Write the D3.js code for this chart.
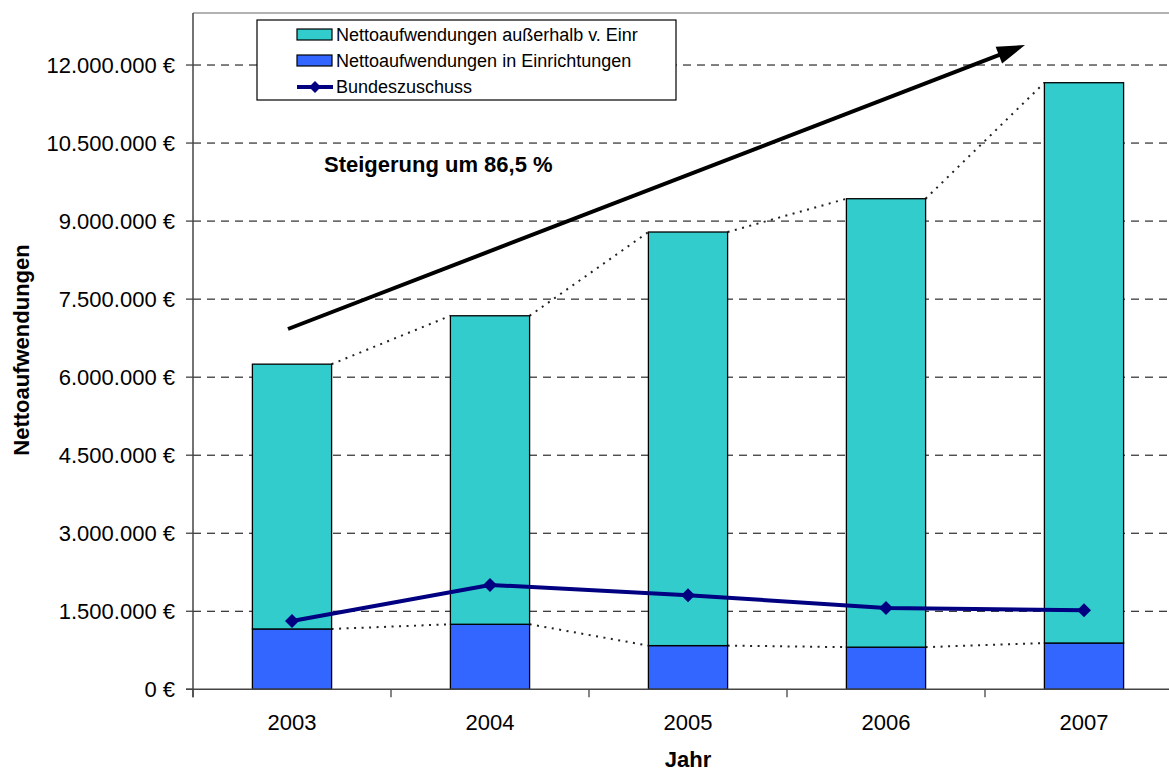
<!DOCTYPE html>
<html>
<head>
<meta charset="utf-8">
<script src="https://cdn.jsdelivr.net/npm/d3@7"></script>
<style>
  body { margin: 0; background: #fff; }
  svg { display: block; font-family: "Liberation Sans", Arial, sans-serif; }
</style>
</head>
<body>
<div id="chart"></div>
<script>
// data
var years = ["2003", "2004", "2005", "2006", "2007"];
var inEinrichtungen = [1160000, 1250000, 840000, 810000, 890000];
var ausserhalb = [5090000, 5930000, 7950000, 8620000, 10770000];
var bundeszuschuss = [1313000, 2006000, 1810000, 1565000, 1520000];
var yTicks = [0, 1500000, 3000000, 4500000, 6000000, 7500000, 9000000, 10500000, 12000000];

var width = 1169, height = 771;
var plotLeft = 193, plotRight = 1183, plotTop = 13, plotBottom = 689.3;

var svg = d3.select("#chart").append("svg")
    .attr("width", width)
    .attr("height", height);

var x = d3.scaleBand()
    .domain(years)
    .range([plotLeft, plotRight])
    .paddingInner(0.6)
    .paddingOuter(0.3);

var y = d3.scaleLinear()
    .domain([0, 13000000])
    .range([plotBottom, plotTop]);

var de = d3.formatLocale({decimal: ",", thousands: ".", grouping: [3], currency: ["", " €"]});
var fmt = de.format(",.0f");

// grid lines
svg.append("g")
  .selectAll("line")
  .data(yTicks.filter(function(d) { return d > 0; }))
  .enter().append("line")
    .attr("x1", plotLeft)
    .attr("x2", plotRight)
    .attr("y1", function(d) { return y(d); })
    .attr("y2", function(d) { return y(d); })
    .attr("stroke", "#000")
    .attr("stroke-width", 1)
    .attr("stroke-dasharray", "8,6");

// top border
svg.append("line")
    .attr("x1", plotLeft).attr("x2", width)
    .attr("y1", plotTop).attr("y2", plotTop)
    .attr("stroke", "#999").attr("stroke-width", 1.5);

// stacked bars
var stacked = years.map(function(yr, i) {
  return {year: yr, lower: inEinrichtungen[i], upper: ausserhalb[i]};
});

// dotted series lines between the bars
var serLines = [];
for (var i = 0; i < stacked.length - 1; i++) {
  var a = stacked[i], b = stacked[i + 1];
  serLines.push({x1: x(a.year) + x.bandwidth(), x2: x(b.year), v1: a.lower, v2: b.lower});
  serLines.push({x1: x(a.year) + x.bandwidth(), x2: x(b.year), v1: a.lower + a.upper, v2: b.lower + b.upper});
}
svg.append("g")
  .selectAll("line")
  .data(serLines)
  .enter().append("line")
    .attr("x1", function(d) { return d.x1; })
    .attr("x2", function(d) { return d.x2; })
    .attr("y1", function(d) { return y(d.v1); })
    .attr("y2", function(d) { return y(d.v2); })
    .attr("stroke", "#222")
    .attr("stroke-width", 2)
    .attr("stroke-dasharray", "2,5.5");

var bars = svg.append("g");
bars.selectAll(".lower")
    .data(stacked)
  .enter().append("rect")
    .attr("class", "lower")
    .attr("x", function(d) { return x(d.year); })
    .attr("width", x.bandwidth())
    .attr("y", function(d) { return y(d.lower); })
    .attr("height", function(d) { return y(0) - y(d.lower); })
    .attr("fill", "#3366FF")
    .attr("stroke", "#000")
    .attr("stroke-width", 1.3);

bars.selectAll(".upper")
    .data(stacked)
  .enter().append("rect")
    .attr("class", "upper")
    .attr("x", function(d) { return x(d.year); })
    .attr("width", x.bandwidth())
    .attr("y", function(d) { return y(d.lower + d.upper); })
    .attr("height", function(d) { return y(d.lower) - y(d.lower + d.upper); })
    .attr("fill", "#33CCCC")
    .attr("stroke", "#000")
    .attr("stroke-width", 1.3);

// axes
svg.append("line")
    .attr("x1", plotLeft).attr("x2", plotLeft)
    .attr("y1", plotTop).attr("y2", plotBottom + 8)
    .attr("stroke", "#444").attr("stroke-width", 1.5);
svg.append("line")
    .attr("x1", plotLeft - 7).attr("x2", plotRight)
    .attr("y1", plotBottom).attr("y2", plotBottom)
    .attr("stroke", "#444").attr("stroke-width", 1.5);

svg.append("g")
  .selectAll("line")
  .data(yTicks)
  .enter().append("line")
    .attr("x1", plotLeft - 7).attr("x2", plotLeft)
    .attr("y1", function(d) { return y(d); })
    .attr("y2", function(d) { return y(d); })
    .attr("stroke", "#444").attr("stroke-width", 1.3);

svg.append("g")
  .selectAll("text")
  .data(yTicks)
  .enter().append("text")
    .attr("x", plotLeft - 18)
    .attr("y", function(d) { return y(d); })
    .attr("dy", "0.36em")
    .attr("text-anchor", "end")
    .attr("font-size", 22)
    .attr("fill", "#000")
    .text(function(d) { return fmt(d) + " €"; });

var step = x.step();
svg.append("g")
  .selectAll("line")
  .data(d3.range(years.length + 1))
  .enter().append("line")
    .attr("x1", function(d) { return plotLeft + d * step; })
    .attr("x2", function(d) { return plotLeft + d * step; })
    .attr("y1", plotBottom).attr("y2", plotBottom + 8)
    .attr("stroke", "#444").attr("stroke-width", 1.3);

svg.append("g")
  .selectAll("text")
  .data(years)
  .enter().append("text")
    .attr("x", function(d) { return x(d) + x.bandwidth() / 2; })
    .attr("y", 730)
    .attr("text-anchor", "middle")
    .attr("font-size", 22)
    .text(function(d) { return d; });

// Bundeszuschuss line
var pts = years.map(function(yr, i) { return {year: yr, v: bundeszuschuss[i]}; });
var diamond = function(s) { return "M0," + (-s) + "L" + s + ",0L0," + s + "L" + (-s) + ",0Z"; };

svg.append("path")
    .datum(pts)
    .attr("fill", "none")
    .attr("stroke", "#000080")
    .attr("stroke-width", 4)
    .attr("d", d3.line()
      .x(function(d) { return x(d.year) + x.bandwidth() / 2; })
      .y(function(d) { return y(d.v); }));

svg.append("g")
  .selectAll("path")
  .data(pts)
  .enter().append("path")
    .attr("transform", function(d) { return "translate(" + (x(d.year) + x.bandwidth() / 2) + "," + y(d.v) + ")"; })
    .attr("d", diamond(7))
    .attr("fill", "#000080");

// trend arrow + annotation
var arrow = {x1: 288, y1: 329, x2: 1025, y2: 45};
var ang = Math.atan2(arrow.y2 - arrow.y1, arrow.x2 - arrow.x1);
var headLen = 28, headW = 9;
var bx = arrow.x2 - headLen * Math.cos(ang), by = arrow.y2 - headLen * Math.sin(ang);
svg.append("line")
    .attr("x1", arrow.x1).attr("y1", arrow.y1)
    .attr("x2", bx + 4 * Math.cos(ang)).attr("y2", by + 4 * Math.sin(ang))
    .attr("stroke", "#000").attr("stroke-width", 4);
svg.append("path")
    .attr("d", "M" + arrow.x2 + "," + arrow.y2 +
      "L" + (bx - headW * Math.sin(ang)) + "," + (by + headW * Math.cos(ang)) +
      "L" + (bx + headW * Math.sin(ang)) + "," + (by - headW * Math.cos(ang)) + "Z")
    .attr("fill", "#000");

svg.append("text")
    .attr("x", 324).attr("y", 172)
    .attr("font-size", 22)
    .attr("font-weight", "bold")
    .text("Steigerung um 86,5 %");

// axis titles
svg.append("text")
    .attr("transform", "translate(29,350) rotate(-90)")
    .attr("text-anchor", "middle")
    .attr("font-size", 22)
    .attr("font-weight", "bold")
    .text("Nettoaufwendungen");

svg.append("text")
    .attr("x", x("2005") + x.bandwidth() / 2)
    .attr("y", 767)
    .attr("text-anchor", "middle")
    .attr("font-size", 22)
    .attr("font-weight", "bold")
    .text("Jahr");

// legend
var legend = svg.append("g").attr("transform", "translate(257,20)");
legend.append("rect")
    .attr("width", 419).attr("height", 80)
    .attr("fill", "#fff").attr("stroke", "#000").attr("stroke-width", 1.2);

var legendItems = [
  {label: "Nettoaufwendungen außerhalb v. Einr", type: "rect", color: "#33CCCC"},
  {label: "Nettoaufwendungen in Einrichtungen", type: "rect", color: "#3366FF"},
  {label: "Bundeszuschuss", type: "line", color: "#000080"}
];
var rows = legend.selectAll(".item")
    .data(legendItems)
  .enter().append("g")
    .attr("class", "item")
    .attr("transform", function(d, i) { return "translate(0," + (15 + i * 26) + ")"; });

rows.filter(function(d) { return d.type === "rect"; })
  .append("rect")
    .attr("x", 40).attr("y", -6)
    .attr("width", 35).attr("height", 11)
    .attr("fill", function(d) { return d.color; })
    .attr("stroke", "#000").attr("stroke-width", 1.2);

var lineRows = rows.filter(function(d) { return d.type === "line"; });
lineRows.append("line")
    .attr("x1", 40).attr("x2", 76)
    .attr("stroke", function(d) { return d.color; })
    .attr("stroke-width", 4);
lineRows.append("path")
    .attr("transform", "translate(58,0)")
    .attr("d", diamond(6))
    .attr("fill", function(d) { return d.color; });

rows.append("text")
    .attr("x", 79)
    .attr("dy", "0.36em")
    .attr("font-size", 18)
    .text(function(d) { return d.label; });
</script>
</body>
</html>
